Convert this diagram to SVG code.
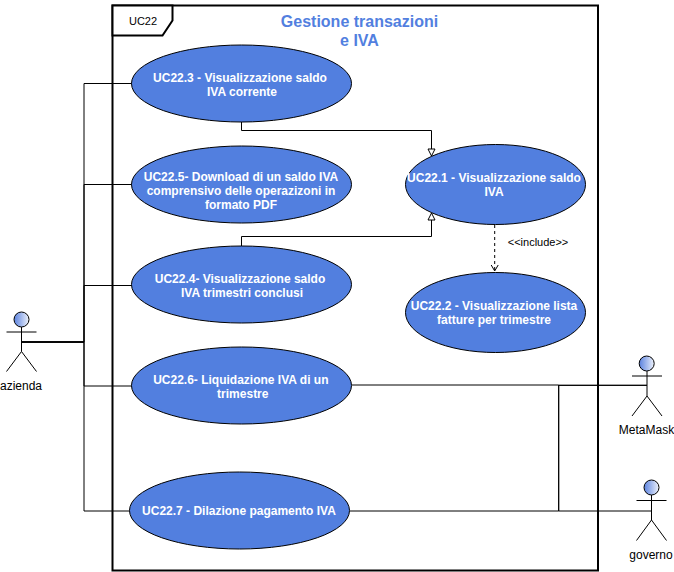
<svg xmlns="http://www.w3.org/2000/svg" width="674" height="572" viewBox="0 0 674 572">
<defs>
<linearGradient id="head" x1="0" y1="0" x2="1" y2="0"><stop offset="0" stop-color="#5b82df"/><stop offset="1" stop-color="#eef2fb"/></linearGradient>
<marker id="tri" markerUnits="userSpaceOnUse" markerWidth="10" markerHeight="10" refX="8" refY="4.500" orient="auto"><path d="M1 1L8 4.500L1 8Z" fill="#fff" stroke="#000"/></marker>
<marker id="open" markerUnits="userSpaceOnUse" markerWidth="10" markerHeight="10" refX="8" refY="4.500" orient="auto"><path d="M2 1L8 4.500L2 8" fill="none" stroke="#000"/></marker>
</defs>
<style>
text{font-family:"Liberation Sans",Arial,sans-serif}
.uc{fill:#527fdf;stroke:#000;stroke-width:1}
.ut{fill:#fff;font-size:12px;font-weight:bold;text-anchor:middle}
.c{fill:none;stroke:#000;stroke-width:1}
.a{fill:none;stroke:#000;stroke-width:1}
.h{fill:url(#head);stroke:#000;stroke-width:1}
.l{fill:#000;font-size:12px;text-anchor:middle}
</style>
<g id="frame">
<rect x="112.500" y="5.500" width="485.500" height="565" fill="#fff" stroke="#000" stroke-width="2"/>
<path d="M112.500 5.500H172.500V20.500L162.500 35.500H112.500Z" fill="#fff" stroke="#000" stroke-width="2"/>
<text x="143" y="25" font-size="11" text-anchor="middle" fill="#000">UC22</text>
<text x="359.500" y="27" font-size="16" font-weight="bold" fill="#527fdf" text-anchor="middle">Gestione transazioni</text>
<text x="359.500" y="46" font-size="16" font-weight="bold" fill="#527fdf" text-anchor="middle">e IVA</text>
</g>
<g id="connectors">
<path class="c" d="M21.500 342H84V83.500H132"/>
<path class="c" d="M21.500 342H84V184.500H132"/>
<path class="c" d="M21.500 342H84V285.500H132"/>
<path class="c" d="M21.500 342H84V386H132"/>
<path class="c" d="M21.500 342H84V511H130"/>
<path class="c" d="M352 385H558.700V511H651.500"/>
<path class="c" d="M350 511H558.700V385.300H647"/>
<path class="c" d="M558.700 385.300H647"/>
<path class="c" marker-end="url(#tri)" d="M241.500 122V130.500H431.500V156"/>
<path class="c" marker-end="url(#tri)" d="M241.500 246V236.500H431.500V213"/>
<path class="c" stroke-dasharray="3 3" marker-end="url(#open)" d="M494.700 225V271"/>
<text x="538" y="246" font-size="11" text-anchor="middle" fill="#000">&lt;&lt;include&gt;&gt;</text>
</g>
<g id="uc223"><ellipse class="uc" cx="241.500" cy="83.500" rx="110" ry="38.500"/><text class="ut" x="240" y="82">UC22.3 - Visualizzazione saldo</text><text class="ut" x="242" y="96">IVA corrente</text></g>
<g id="uc225"><ellipse class="uc" cx="241.500" cy="184.500" rx="110" ry="38.500"/><text class="ut" x="241" y="181">UC22.5- Download di un saldo IVA</text><text class="ut" x="241" y="195">comprensivo delle operazizoni in</text><text class="ut" x="241" y="209">formato PDF</text></g>
<g id="uc224"><ellipse class="uc" cx="241.500" cy="284.500" rx="110" ry="38.500"/><text class="ut" x="240" y="283">UC22.4- Visualizzazione saldo</text><text class="ut" x="242" y="297">IVA trimestri conclusi</text></g>
<g id="uc226"><ellipse class="uc" cx="241.500" cy="385.500" rx="110" ry="38.500"/><text class="ut" x="240.800" y="384">UC22.6- Liquidazione IVA di un</text><text class="ut" x="242.800" y="398">trimestre</text></g>
<g id="uc227"><ellipse class="uc" cx="239.500" cy="510.500" rx="110" ry="38.500"/><text class="ut" x="239" y="515">UC22.7 - Dilazione pagamento IVA</text></g>
<g id="uc221"><ellipse class="uc" cx="495.500" cy="184.500" rx="90" ry="40"/><text class="ut" x="494" y="182">UC22.1 - Visualizzazione saldo</text><text class="ut" x="494" y="196">IVA</text></g>
<g id="uc222"><ellipse class="uc" cx="495.500" cy="312.500" rx="90" ry="40"/><text class="ut" x="494" y="310">UC22.2 - Visualizzazione lista</text><text class="ut" x="494" y="324">fatture per trimestre</text></g>
<g id="azienda"><circle class="h" cx="21.500" cy="319.500" r="7.500"/><path class="a" d="M21.500 327V351.500M6.500 332H36.500M21.500 351.500L6.500 371.500M21.500 351.500L36.500 371.500"/><text class="l" x="21" y="390">azienda</text></g>
<g id="metamask"><circle class="h" cx="646.700" cy="363.500" r="7.500"/><path class="a" d="M647 371V396M632 376H662M647 396L632 416M647 396L662 416"/><text class="l" x="646.500" y="434">MetaMask</text></g>
<g id="governo"><circle class="h" cx="651.500" cy="487.500" r="7.500"/><path class="a" d="M651.500 495V520M636.500 500.500H666.500M651.500 520L636.500 540.500M651.500 520L666.500 540.500"/><text class="l" x="651" y="559">governo</text></g>
</svg>
